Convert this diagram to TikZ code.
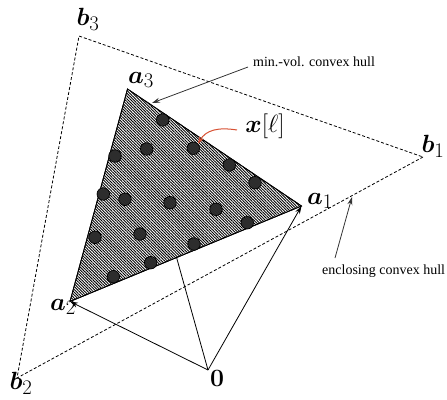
\documentclass[tikz,border=0pt]{standalone}
\usepackage{fontspec}
\usepackage{amsmath}
\usepackage{bm}
\newfontfamily\annfont{Liberation Serif}
\usetikzlibrary{arrows.meta,patterns.meta}
\definecolor{dotgray}{RGB}{45,45,45}
\definecolor{redarrow}{RGB}{215,80,50}
\begin{document}
\begin{tikzpicture}[x=1pt,y=-1pt,
  lbl/.style={inner sep=0pt,font=\fontsize{29}{32}\selectfont},
  ann/.style={inner sep=0pt,anchor=west,font=\annfont\fontsize{14}{16}\selectfont},
  hull/.style={draw=black,line width=0.8pt,dash pattern=on 3pt off 2pt},
  mvhull/.style={draw=black,line width=0.8pt,
    pattern={Lines[angle=-45,distance=2pt,line width=0.9pt]},pattern color=black},
  datapt/.style={circle,fill=dotgray,draw=black,line width=0.7pt,minimum size=12.5pt,inner sep=0pt},
  vec/.style={draw=black,line width=0.8pt,-{Stealth[length=8pt,width=5pt]}},
  pointer/.style={draw=black!80,line width=0.8pt,-{Stealth[length=8pt,width=5pt]}}]
\useasboundingbox (0,0) rectangle (447,399);
% vertices
\coordinate (B1) at (423,157);
\coordinate (B2) at (17,378);
\coordinate (B3) at (79,36);
\coordinate (A1) at (301.5,206);
\coordinate (A2) at (70,301.5);
\coordinate (A3) at (127.5,89);
\coordinate (O) at (208,370);
\coordinate (F) at (176.7,258);
% enclosing hull
\draw[hull] (B1) -- (B2) -- (B3) -- cycle;
% min-vol hull
\fill[white] (A1) -- (A2) -- (A3) -- cycle;
\path[mvhull] (A1) -- (A2) -- (A3) -- cycle;
\draw[line width=0.8pt] (A1) -- (A2) -- (A3) -- cycle;
% data points
\foreach \px/\py [count=\i] in {162.7/120,146.7/149,193.3/148.3,115/156,229.3/165,255/182.7,
  103.3/194,125/199.3,170/202.7,216/209.3,247.3/222.7,95/237.3,140/234,194/244,150.7/262.7,113.3/276.7}
  \node[datapt] (d\i) at (\px,\py) {};
% vectors
\draw[line width=0.8pt] (O) -- (F);
\draw[vec] (O) -- (A1);
\draw[vec] (O) -- (A2);
% labels
\node[lbl] (lb3) at (88,19) {$\bm{b}_3$};
\node[lbl] (lb1) at (433,146) {$\bm{b}_1$};
\node[lbl] (lb2) at (21,383) {$\bm{b}_2$};
\node[lbl] (la3) at (141,80) {$\bm{a}_3$};
\node[lbl] (la1) at (320,201) {$\bm{a}_1$};
\node[lbl] (la2) at (63,307) {$\bm{a}_2$};
\node[lbl] (lo) at (217,378) {$\bm{0}$};
\node[lbl] (lx) at (265,126) {$\bm{x}[\ell]$};
% annotations
\node[ann] (tmv) at (253,62) {min.-vol. convex hull};
\node[ann] (tenc) at (322,271) {enclosing convex hull};
\coordinate (mvs) at (248,67);
\coordinate (mvt) at (152,103);
\draw[pointer] (mvs) -- (mvt);
\coordinate (ens) at (335,258);
\coordinate (ent) at (352,197);
\draw[pointer] (ens) -- (ent);
\coordinate (xs) at (237,130);
\draw[redarrow,line width=1pt,-{Stealth[length=7pt,width=5pt]}] (xs) .. controls (218,127) and (206,130) .. (d3.north east);
\end{tikzpicture}
\end{document}
